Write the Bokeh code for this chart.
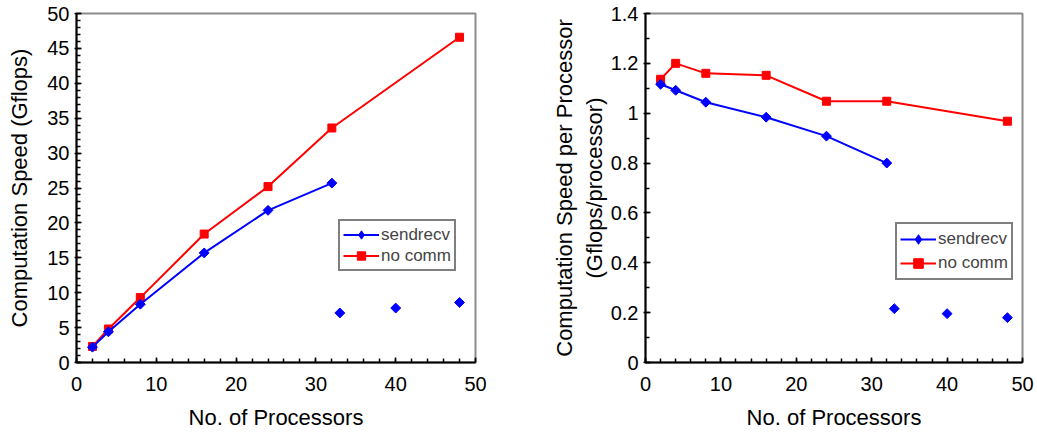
import numpy as np
from bokeh.plotting import figure
from bokeh.layouts import row
from bokeh.models import Range1d, Legend, LegendItem, FixedTicker, NumeralTickFormatter
from bokeh.embed import file_html
from bokeh.resources import INLINE

# Processor counts and measured speeds
procs = [2, 4, 8, 16, 24, 32, 48]
nocomm_speed = [2.3, 4.8, 9.3, 18.4, 25.2, 33.6, 46.6]
sendrecv_procs = [2, 4, 8, 16, 24, 32]
sendrecv_speed = [2.2, 4.4, 8.35, 15.7, 21.8, 25.7]
sendrecv_extra_procs = [33, 40, 48]
sendrecv_extra_speed = [7.1, 7.8, 8.6]

# Speed per processor
nocomm_per_proc = [1.136, 1.2, 1.16, 1.152, 1.048, 1.048, 0.968]
sendrecv_per_proc = [1.116, 1.092, 1.044, 0.984, 0.908, 0.80]
sendrecv_extra_per_proc = [0.216, 0.196, 0.18]

x_major = [0, 10, 20, 30, 40, 50]
x_minor = list(range(0, 51, 2))

FONT = "Liberation Sans"
BLUE = "#0000ff"
RED = "#ff0000"


def make_panel(width, border_left, border_right, y_end, y_major, y_minor,
               y_label, label_standoff, legend_xy, row_h,
               nocomm_y, sr_y, sr_extra_y, fmt=None):
    p = figure(width=width, height=435, output_backend="svg", toolbar_location=None,
               x_range=Range1d(0, 50), y_range=Range1d(0, y_end),
               min_border_left=border_left, min_border_right=border_right,
               min_border_top=13, min_border_bottom=73)
    p.grid.visible = False
    p.outline_line_color = "#8c8c8c"
    p.outline_line_width = 2
    p.background_fill_color = "white"
    p.border_fill_color = "white"

    p.xaxis.ticker = FixedTicker(ticks=x_major, minor_ticks=x_minor)
    p.yaxis.ticker = FixedTicker(ticks=y_major, minor_ticks=y_minor)
    if fmt is not None:
        p.yaxis.formatter = fmt

    for ax in (p.xaxis[0], p.yaxis[0]):
        ax.axis_line_color = "black"
        ax.axis_line_width = 2
        ax.major_tick_line_width = 1.5
        ax.minor_tick_line_width = 1.5
        ax.major_tick_in = 5
        ax.minor_tick_in = 4
        ax.minor_tick_out = 0
        ax.major_label_text_font = FONT
        ax.major_label_text_font_size = "20px"
        ax.major_label_text_color = "black"
        ax.axis_label_text_font = FONT
        ax.axis_label_text_font_size = "22px"
        ax.axis_label_text_font_style = "normal"
        ax.axis_label_text_color = "black"

    p.xaxis.major_tick_out = 0
    p.xaxis.major_label_standoff = 14
    p.xaxis.axis_label = "No. of Processors"
    p.xaxis.axis_label_standoff = 11

    p.yaxis.major_tick_out = 2
    p.yaxis.major_label_standoff = 5
    p.yaxis.axis_label = y_label
    p.yaxis.axis_label_standoff = label_standoff

    nl = p.line(procs, nocomm_y, line_color=RED, line_width=2)
    ns = p.scatter(procs, nocomm_y, marker="square", size=8,
                   fill_color=RED, line_color=RED)
    sl = p.line(sendrecv_procs, sr_y, line_color=BLUE, line_width=2)
    # diamond key for the legend, drawn under the rotated-square markers
    key = p.scatter(sendrecv_procs, sr_y, marker="diamond", size=7,
                    fill_color=BLUE, line_color=BLUE)
    p.scatter(sendrecv_procs, sr_y, marker="square", size=7, angle=np.pi / 4,
              fill_color=BLUE, line_color=BLUE)
    p.scatter(sendrecv_extra_procs, sr_extra_y, marker="square", size=7, angle=np.pi / 4,
              fill_color=BLUE, line_color=BLUE)

    legend = Legend(items=[LegendItem(label="sendrecv", renderers=[sl, key]),
                           LegendItem(label="no comm", renderers=[nl, ns])],
                    location=legend_xy)
    legend.border_line_color = "black"
    legend.border_line_width = 2
    legend.background_fill_color = "white"
    legend.background_fill_alpha = 1
    legend.label_text_font = FONT
    legend.label_text_font_size = "17px"
    legend.glyph_width = 36
    legend.glyph_height = row_h
    legend.label_height = row_h
    legend.label_standoff = 2
    legend.spacing = 0
    legend.padding = 3
    legend.margin = 0
    p.add_layout(legend)
    return p


left = make_panel(505, 76, 30, 50, list(range(0, 51, 5)), list(range(0, 51, 1)),
                  "Computation Speed (Gflops)", 12, (262, 91), 21,
                  nocomm_speed, sendrecv_speed, sendrecv_extra_speed)

right = make_panel(532, 140, 15, 1.4, [0, 0.2, 0.4, 0.6, 0.8, 1, 1.2, 1.4],
                   [round(v * 0.1, 1) for v in range(15)],
                   "Computation Speed per Processor\n(Gflops/processor)", 1, (250, 82), 24,
                   nocomm_per_proc, sendrecv_per_proc, sendrecv_extra_per_proc,
                   fmt=NumeralTickFormatter(format="0.[0]"))

layout = row(left, right)
open("out.html", "w").write(file_html(layout, INLINE))
